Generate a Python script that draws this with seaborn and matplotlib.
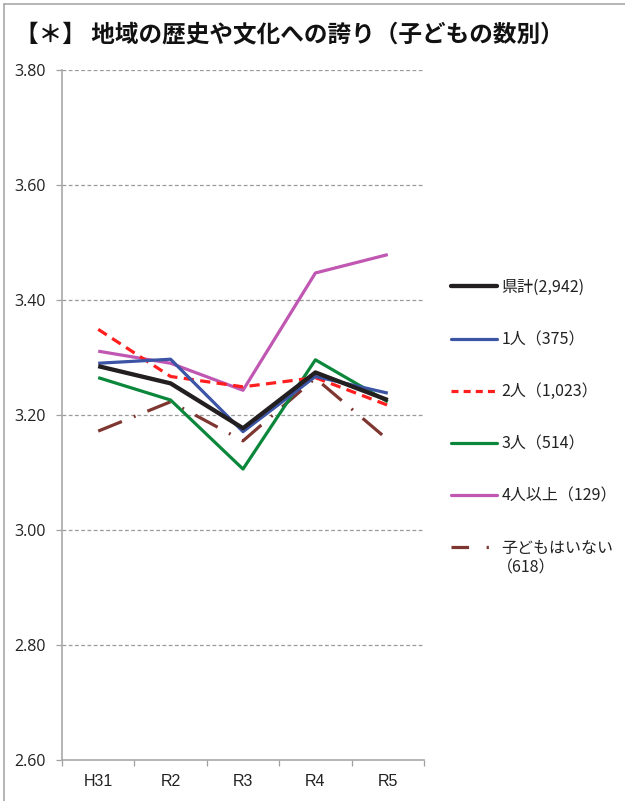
import matplotlib
matplotlib.use("Agg")
import matplotlib.pyplot as plt
from matplotlib.lines import Line2D
import seaborn as sns
import pandas as pd

years = ["H31", "R2", "R3", "R4", "R5"]
series_names = ["県計(2,942)", "1人（375）", "2人（1,023）", "3人（514）", "4人以上（129）", "子どもはいない"]
last_count = "（618）"
v_total = [3.285, 3.255, 3.177, 3.274, 3.226]
v_one = [3.290, 3.297, 3.171, 3.267, 3.238]
v_two = [3.349, 3.267, 3.249, 3.265, 3.217]
v_three = [3.265, 3.226, 3.106, 3.296, 3.223]
v_four = [3.311, 3.290, 3.243, 3.447, 3.479]
v_none = [3.172, 3.223, 3.155, 3.264, 3.157]
yticks = [2.60, 2.80, 3.00, 3.20, 3.40, 3.60, 3.80]
title = "【＊】 地域の歴史や文化への誇り（子どもの数別）"

all_vals = [v_total, v_one, v_two, v_three, v_four, v_none]
rows = []
for name, vals in zip(series_names, all_vals):
    for yr, v in zip(years, vals):
        rows.append({"year": yr, "value": v, "series": name})
df = pd.DataFrame(rows)

sns.set_theme(style="white")
plt.rcParams['font.family'] = ['Noto Sans CJK JP', 'DejaVu Sans']

colors = ["#231f20", "#3b54a4", "#ff1f1f", "#0b873b", "#c057b2", "#7e3630"]
widths = [3.1, 2.3, 2.3, 2.3, 2.3, 2.3]
dashes = [None, None, (3.2, 2.0), None, None, (8, 4, 0.6, 4)]

fig = plt.figure(figsize=(6.25, 8.01), dpi=100)
ax = fig.add_axes([62/625, 41/801, 362/625, 690/801])

order = [5, 4, 3, 2, 1, 0]
for i in order:
    sub = df[df["series"] == series_names[i]]
    sns.lineplot(data=sub, x="year", y="value", ax=ax, color=colors[i],
                 linewidth=widths[i], sort=False, legend=False, zorder=3 + (6 - i))

lines = ax.get_lines()
for ln, i in zip(lines, order):
    if dashes[i] is not None:
        ln.set_dashes(dashes[i])
    ln.set_solid_capstyle("butt")

ax.set_ylim(2.60, 3.80)
ax.set_xlim(-0.5, 4.5)
ax.set_yticks(yticks)
ax.set_yticklabels([f"{t:.2f}" for t in yticks], fontsize=11.5, color="#222222",
                   family=['Open Sans', 'DejaVu Sans'])
for t in yticks[1:]:
    ax.axhline(t, color="#9a9a9a", lw=0.9, ls=(0, (3, 2)), zorder=1)

ax.set_xticks([-0.5, 0.5, 1.5, 2.5, 3.5, 4.5])
ax.set_xticklabels([])
ax.set_xticks(range(len(years)), minor=True)
ax.set_xticklabels(years, minor=True, fontsize=11.5, color="#222222",
                   family=['Liberation Sans', 'DejaVu Sans'])
ax.tick_params(axis="x", which="major", length=4, width=0.9, color="#a0a0a0", direction="out", bottom=True)
ax.tick_params(axis="x", which="minor", length=0, pad=10, bottom=True)
ax.tick_params(axis="y", length=4, width=0.9, color="#a0a0a0", direction="out", pad=8, left=True)
ax.set_xlabel("")
ax.set_ylabel("")
for s in ["top", "right"]:
    ax.spines[s].set_visible(False)
for s in ["left", "bottom"]:
    ax.spines[s].set_color("#a8a8a8")
    ax.spines[s].set_linewidth(1.2)

handles = []
for i in range(6):
    h = Line2D([0], [0], color=colors[i], lw=widths[i])
    if dashes[i] is not None:
        if i == 5:
            h.set_dashes((5.5, 5.5, 0.7, 4))
        else:
            h.set_dashes((2.2, 1.6))
    handles.append(h)
leg = fig.legend(handles, series_names, loc="upper left", bbox_to_anchor=(451/625, 1 - 279/801),
                 frameon=False, fontsize=11.5, handlelength=2.85, handletextpad=0.3,
                 labelspacing=2.2, borderpad=0, borderaxespad=0)
for t in leg.get_texts():
    t.set_color("#222222")

fig.text(497/625, 1 - 568/801, last_count, fontsize=11.5, va="center", ha="left", color="#222222")

fig.text(15/625, 1 - 34/801, title, fontsize=17, fontweight="bold", va="center", ha="left",
         color="#111111")

fig.add_artist(Line2D([4/625, 4/625], [0, 1 - 4/801], transform=fig.transFigure, color="#a8a8a8", lw=1.2))
fig.add_artist(Line2D([4/625, 1], [1 - 4/801, 1 - 4/801], transform=fig.transFigure, color="#a8a8a8", lw=1.2))

fig.savefig("out.png", dpi=100, facecolor="white")
